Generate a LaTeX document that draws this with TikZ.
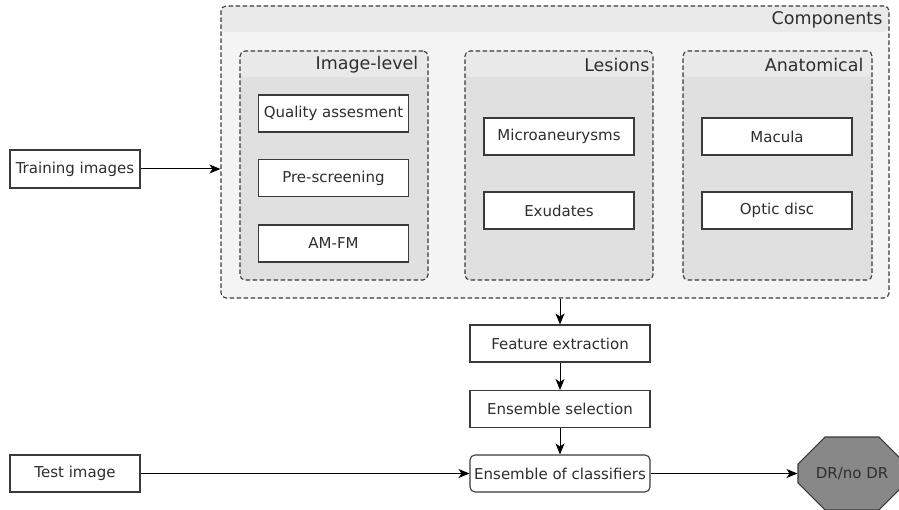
\documentclass[tikz,border=0pt]{standalone}
\usepackage{fontspec}
\setmainfont{DejaVu Sans}
\usepackage{tikz}
\usetikzlibrary{positioning,arrows.meta,shapes.misc}
\definecolor{txtgray}{HTML}{2E2E2E}
\definecolor{edgegray}{HTML}{3A3A3A}
\definecolor{outerbg}{HTML}{F4F4F4}
\definecolor{outerhead}{HTML}{EAEAEA}
\definecolor{innerbg}{HTML}{E0E0E0}
\definecolor{innerhead}{HTML}{E9E9E9}
\definecolor{octfill}{HTML}{888888}
\tikzset{%
    block/.style={%
        draw=edgegray, line width=1.1pt, fill=white, text=txtgray,
        minimum width=150pt, minimum height=37pt, inner sep=0pt,
        font=\fontsize{15}{17}\selectfont
    },
    wideblock/.style={%
        block, minimum width=180pt
    },
    group/.style={%
        draw=edgegray, line width=1.1pt, dash pattern=on 4.5pt off 2.5pt,
        rounded corners=5pt, inner sep=0pt
    },
    headtext/.style={%
        text=txtgray, inner sep=0pt, anchor=east,
        font=\fontsize{17.5}{20}\selectfont
    },
    arr/.style={%
        -{Stealth[length=11pt, width=9pt, inset=3pt]}, line width=1pt, black
    }
}

\begin{document}
\begin{tikzpicture}[x=1pt, y=-1pt]
    \useasboundingbox (0,0) rectangle (899,510);
    % groups
    \node[group, fill=outerbg, minimum width=668pt, minimum height=292pt,
        path picture={\fill[outerhead] (path picture bounding box.north west)
            rectangle ([yshift=-26pt]path picture bounding box.north east);}]
        (comp) at (555,152) {};
    \node[headtext] at ([xshift=-7pt, yshift=-14.5pt]comp.north east) {Components};
    \node[group, fill=innerbg, minimum width=188pt, minimum height=229pt,
        path picture={\fill[innerhead] (path picture bounding box.north west)
            rectangle ([yshift=-26pt]path picture bounding box.north east);}]
        (imglvl) at (334,165.5) {};
    \node[headtext] at ([xshift=-10pt, yshift=-14.5pt]imglvl.north east) {Image-level};
    \node[group, fill=innerbg, minimum width=188pt, minimum height=229pt,
        path picture={\fill[innerhead] (path picture bounding box.north west)
            rectangle ([yshift=-26pt]path picture bounding box.north east);}]
        (lesions) at (559,165.5) {};
    \node[headtext] at ([xshift=-4pt, yshift=-14.5pt]lesions.north east) {Lesions};
    \node[group, fill=innerbg, minimum width=189pt, minimum height=229pt,
        path picture={\fill[innerhead] (path picture bounding box.north west)
            rectangle ([yshift=-26pt]path picture bounding box.north east);}]
        (anat) at (777.5,165.5) {};
    \node[headtext] at ([xshift=-9pt, yshift=-14.5pt]anat.north east) {Anatomical};
    % components
    \node[block] (quality) at (333.5,113.5) {Quality assesment};
    \node[block] (prescreen) at (333.5,178) {Pre-screening};
    \node[block] (amfm) at (333.5,243.5) {AM-FM};
    \node[block] (microan) at (559,136.5) {Microaneurysms};
    \node[block] (exud) at (559,210.5) {Exudates};
    \node[block] (macula) at (777,136.5) {Macula};
    \node[block] (optic) at (777,210.5) {Optic disc};
    % pipeline
    \node[block, minimum width=130pt, minimum height=38pt] (train) at (75,169) {Training images};
    \node[block, minimum width=130pt] (test) at (75,473.5) {Test image};
    \node[wideblock] (feat) at (560,343.5) {Feature extraction};
    \node[wideblock] (select) at (560,409) {Ensemble selection};
    \node[wideblock, rounded corners=5pt] (ensemble) at (560,473.5) {Ensemble of classifiers};
    \node[draw=edgegray, line width=1.1pt, fill=octfill, text=txtgray,
        chamfered rectangle, chamfered rectangle xsep=24pt, chamfered rectangle ysep=21pt,
        minimum width=108pt, minimum height=73pt, inner sep=0pt,
        font=\fontsize{15}{17}\selectfont] (dr) at (852,473.5) {DR/no DR};
    \draw[arr] (train.east) -- (train.east -| comp.west);
    \draw[arr] (comp.south -| feat.north) -- (feat.north);
    \draw[arr] (feat) -- (select);
    \draw[arr] (select) -- (ensemble);
    \draw[arr] (test) -- (ensemble);
    \draw[arr] (ensemble.east) -- (ensemble.east -| dr.west);
\end{tikzpicture}
\end{document}
